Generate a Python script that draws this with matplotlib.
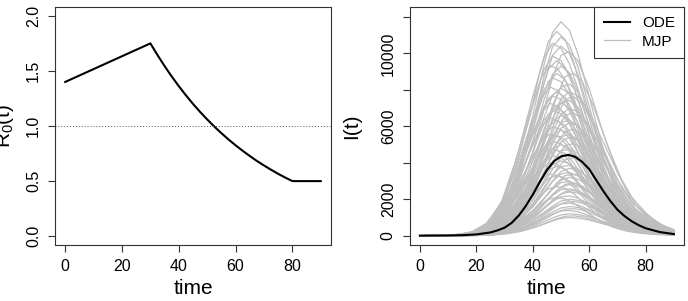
import matplotlib
matplotlib.use("Agg")
import matplotlib.pyplot as plt

plt.rcParams['font.family'] = ['Liberation Sans', 'DejaVu Sans']
plt.rcParams['mathtext.fontset'] = 'custom'
plt.rcParams['mathtext.rm'] = 'Liberation Sans'
plt.rcParams['mathtext.it'] = 'Liberation Sans'

# --- DATA ---
# left panel: reproduction number over time
r0_time = [0, 30, 32.5, 35, 37.5, 40, 42.5, 45, 47.5, 50, 52.5, 55, 57.5, 60, 62.5,
           65, 67.5, 70, 72.5, 75, 77.5, 80, 90]
r0_value = [1.40, 1.75, 1.644, 1.544, 1.450, 1.362, 1.279, 1.201, 1.128, 1.060, 0.995,
            0.935, 0.878, 0.825, 0.775, 0.728, 0.683, 0.642, 0.603, 0.566, 0.532, 0.50, 0.50]

# right panel: deterministic ODE solution
ode_time = [0, 5, 10, 15, 20, 25, 27.5, 30, 32.5, 35, 37.5, 40, 42.5, 45, 47.5, 50, 52.5,
            55, 57.5, 60, 62.5, 65, 67.5, 70, 72.5, 75, 77.5, 80, 85, 90]
ode_value = [5, 8, 14, 30, 70, 180, 290, 440, 700, 1100, 1620, 2250, 2950, 3600, 4080, 4350,
             4430, 4330, 4050, 3650, 3050, 2450, 1900, 1430, 1080, 800, 580, 410, 200, 90]

# right panel: stochastic MJP trajectories, each group with its own sampling times
mjp_time = [0, 10, 15, 20, 25, 30, 35, 40, 44, 47, 50, 53, 56, 60, 65, 70, 75, 80, 85, 90]
mjp_time_b = [0, 8.5, 13.5, 18.5, 23.5, 28.5, 33.5, 38.5, 42.5, 45.5, 48.5, 51.5, 54.5,
              58.5, 63.5, 68.5, 73.5, 78.5, 83.5, 90]
mjp_time_c = [0, 11.5, 16.5, 21.5, 26.5, 31.5, 36.5, 41.5, 45.5, 48.5, 51.5, 54.5, 57.5,
              61.5, 66.5, 71.5, 76.5, 81.5, 86.5, 90]
mjp_time_d = [0, 9, 14, 19, 24, 29, 34, 39, 43, 46, 49, 52, 55, 59, 64, 69, 74, 79, 84, 90]

mjp_peak50 = [
    [4, 23, 80, 230, 700, 1760, 3640, 6570, 9380, 11140, 11730, 11260, 9970, 7620, 4690, 2580, 1350, 700, 380, 200],
    [3, 22, 76, 220, 650, 1640, 3380, 6100, 8720, 10360, 10900, 10460, 9260, 7090, 4360, 2400, 1250, 650, 350, 185],
    [3, 21, 73, 210, 620, 1560, 3220, 5820, 8320, 9880, 10400, 9980, 8840, 6760, 4160, 2290, 1200, 620, 330, 180],
    [3, 19, 65, 186, 560, 1400, 2880, 5210, 7440, 8840, 9300, 8930, 7900, 6050, 3720, 2050, 1070, 560, 300, 158],
    [2, 16, 57, 162, 490, 1220, 2510, 4540, 6480, 7700, 8100, 7780, 6880, 5260, 3240, 1780, 930, 490, 260, 138],
    [2, 15, 51, 146, 440, 1100, 2260, 4090, 5840, 6940, 7300, 7010, 6200, 4750, 2920, 1610, 840, 440, 234, 124],
    [2, 13, 46, 132, 400, 990, 2050, 3700, 5280, 6270, 6600, 6340, 5610, 4290, 2640, 1450, 760, 400, 211, 112],
    [2, 12, 41, 116, 350, 870, 1800, 3250, 4640, 5510, 5800, 5570, 4930, 3770, 2320, 1280, 670, 350, 186, 99],
    [2, 10, 35, 100, 300, 750, 1550, 2800, 4000, 4750, 5000, 4800, 4250, 3250, 2000, 1100, 575, 300, 160, 85],
    [1, 8, 29, 82, 246, 615, 1270, 2300, 3280, 3900, 4100, 3940, 3490, 2660, 1640, 900, 470, 246, 131, 70],
]

mjp_early = [
    [5, 32, 85, 233, 800, 2120, 4660, 7630, 9750, 10550, 10280, 9430, 8060, 5940, 3500, 1910, 1010, 530, 286, 148],
    [5, 30, 79, 218, 740, 1980, 4360, 7130, 9110, 9850, 9600, 8810, 7520, 5540, 3270, 1780, 940, 495, 267, 139],
    [4, 26, 70, 191, 650, 1740, 3830, 6260, 8000, 8660, 8440, 7740, 6610, 4870, 2870, 1570, 830, 435, 235, 122],
    [4, 23, 62, 169, 580, 1540, 3390, 5540, 7080, 7660, 7470, 6850, 5850, 4310, 2540, 1390, 730, 385, 208, 108],
    [3, 21, 55, 152, 520, 1380, 3040, 4970, 6350, 6870, 6690, 6140, 5240, 3860, 2280, 1240, 656, 345, 186, 97],
    [3, 18, 48, 132, 450, 1200, 2640, 4320, 5520, 5970, 5820, 5340, 4560, 3360, 1980, 1080, 570, 300, 162, 84],
    [3, 16, 42, 114, 390, 1040, 2290, 3740, 4780, 5170, 5040, 4630, 3950, 2910, 1720, 940, 494, 260, 140, 73],
    [2, 13, 35, 97, 330, 880, 1940, 3170, 4050, 4380, 4270, 3920, 3340, 2460, 1450, 790, 418, 220, 119, 62],
]

mjp_peak52 = [
    [2, 15, 41, 133, 410, 1070, 2450, 4590, 6940, 8670, 9890, 10100, 9590, 8060, 5610, 3470, 1940, 1120, 612, 347],
    [2, 13, 34, 109, 336, 882, 2016, 3780, 5712, 7140, 8148, 8316, 7896, 6636, 4620, 2856, 1596, 924, 504, 286],
    [2, 11, 30, 98, 300, 788, 1800, 3375, 5100, 6375, 7275, 7425, 7050, 5925, 4125, 2550, 1425, 825, 450, 255],
    [1, 10, 26, 83, 256, 672, 1536, 2880, 4352, 5440, 6208, 6336, 6016, 5056, 3520, 2176, 1216, 704, 384, 218],
    [1, 8, 22, 73, 224, 588, 1344, 2520, 3808, 4760, 5432, 5544, 5264, 4424, 3080, 1904, 1064, 616, 336, 190],
    [1, 7, 19, 62, 192, 504, 1152, 2160, 3264, 4080, 4656, 4752, 4512, 3792, 2640, 1632, 912, 528, 288, 163],
    [1, 6, 16, 51, 156, 410, 936, 1755, 2652, 3315, 3783, 3861, 3666, 3081, 2145, 1326, 741, 429, 234, 133],
    [1, 5, 14, 46, 140, 368, 840, 1575, 2380, 2975, 3395, 3465, 3290, 2765, 1925, 1190, 665, 385, 210, 119],
    [1, 5, 12, 39, 120, 315, 720, 1350, 2040, 2550, 2910, 2970, 2820, 2370, 1650, 1020, 570, 330, 180, 102],
    [1, 4, 10, 34, 104, 273, 624, 1170, 1768, 2210, 2522, 2574, 2444, 2054, 1430, 884, 494, 286, 156, 88],
    [0, 3, 9, 29, 88, 231, 528, 990, 1496, 1870, 2134, 2178, 2068, 1738, 1210, 748, 418, 242, 132, 75],
    [0, 3, 7, 23, 72, 189, 432, 810, 1224, 1530, 1746, 1782, 1692, 1422, 990, 612, 342, 198, 108, 61],
    [0, 2, 6, 18, 56, 147, 336, 630, 952, 1190, 1358, 1386, 1316, 1106, 770, 476, 266, 154, 84, 48],
]

mjp_late = [
    [2, 13, 40, 103, 316, 869, 1817, 3397, 5056, 6399, 7505, 7900, 7663, 6794, 5135, 3476, 2133, 1264, 632, 316],
    [2, 12, 35, 91, 280, 770, 1610, 3010, 4480, 5670, 6650, 7000, 6790, 6020, 4550, 3080, 1890, 1120, 560, 280],
    [2, 11, 31, 81, 248, 682, 1426, 2666, 3968, 5022, 5890, 6200, 6014, 5332, 4030, 2728, 1674, 992, 496, 248],
    [2, 9, 27, 70, 216, 594, 1242, 2322, 3456, 4374, 5130, 5400, 5238, 4644, 3510, 2376, 1458, 864, 432, 216],
    [1, 8, 23, 59, 180, 495, 1035, 1935, 2880, 3645, 4275, 4500, 4365, 3870, 2925, 1980, 1215, 720, 360, 180],
    [1, 6, 19, 48, 148, 407, 851, 1591, 2368, 2997, 3515, 3700, 3589, 3182, 2405, 1628, 999, 592, 296, 148],
    [1, 5, 16, 42, 128, 352, 736, 1376, 2048, 2592, 3040, 3200, 3104, 2752, 2080, 1408, 864, 512, 256, 128],
    [1, 5, 14, 36, 112, 308, 644, 1204, 1792, 2268, 2660, 2800, 2716, 2408, 1820, 1232, 756, 448, 224, 112],
    [1, 4, 12, 31, 96, 264, 552, 1032, 1536, 1944, 2280, 2400, 2328, 2064, 1560, 1056, 648, 384, 192, 96],
    [1, 3, 10, 26, 80, 220, 460, 860, 1280, 1620, 1900, 2000, 1940, 1720, 1300, 880, 540, 320, 160, 80],
    [0, 3, 8, 21, 64, 176, 368, 688, 1024, 1296, 1520, 1600, 1552, 1376, 1040, 704, 432, 256, 128, 64],
    [0, 2, 6, 16, 48, 132, 276, 516, 768, 972, 1140, 1200, 1164, 1032, 780, 528, 324, 192, 96, 48],
    [0, 2, 5, 13, 40, 110, 230, 430, 640, 810, 950, 1000, 970, 860, 650, 440, 270, 160, 80, 40],
]

# sampled on mjp_time_b
mjp_peak48 = [
    [3, 22, 78, 224, 672, 1680, 3472, 6272, 8960, 10640, 11200, 10752, 9520, 7280, 4480, 2464, 1288, 672, 358, 190],
    [3, 19, 67, 192, 576, 1440, 2976, 5376, 7680, 9120, 9600, 9216, 8160, 6240, 3840, 2112, 1104, 576, 307, 163],
    [3, 18, 62, 178, 534, 1335, 2759, 4984, 7120, 8455, 8900, 8544, 7565, 5785, 3560, 1958, 1024, 534, 285, 151],
    [2, 16, 55, 158, 474, 1185, 2449, 4424, 6320, 7505, 7900, 7584, 6715, 5135, 3160, 1738, 909, 474, 253, 134],
    [2, 14, 49, 140, 420, 1050, 2170, 3920, 5600, 6650, 7000, 6720, 5950, 4550, 2800, 1540, 805, 420, 224, 119],
    [2, 13, 44, 126, 378, 945, 1953, 3528, 5040, 5985, 6300, 6048, 5355, 4095, 2520, 1386, 725, 378, 202, 107],
    [2, 11, 39, 110, 330, 825, 1705, 3080, 4400, 5225, 5500, 5280, 4675, 3575, 2200, 1210, 633, 330, 176, 94],
    [1, 9, 33, 94, 282, 705, 1457, 2632, 3760, 4465, 4700, 4512, 3995, 3055, 1880, 1034, 541, 282, 150, 80],
    [1, 8, 27, 76, 228, 570, 1178, 2128, 3040, 3610, 3800, 3648, 3230, 2470, 1520, 836, 437, 228, 122, 65],
    [1, 7, 23, 66, 198, 495, 1023, 1848, 2640, 3135, 3300, 3168, 2805, 2145, 1320, 726, 380, 198, 106, 56],
    [1, 5, 19, 54, 162, 405, 837, 1512, 2160, 2565, 2700, 2592, 2295, 1755, 1080, 594, 311, 162, 86, 46],
    [1, 4, 15, 42, 126, 315, 651, 1176, 1680, 1995, 2100, 2016, 1785, 1365, 840, 462, 242, 126, 67, 36],
]

# sampled on mjp_time_c
mjp_peak54 = [
    [2, 14, 36, 117, 360, 945, 2160, 4050, 6120, 7650, 8730, 8910, 8460, 7110, 4950, 3060, 1710, 990, 540, 270],
    [2, 12, 31, 100, 308, 809, 1848, 3465, 5236, 6545, 7469, 7623, 7238, 6083, 4235, 2618, 1463, 847, 462, 231],
    [1, 10, 27, 88, 272, 714, 1632, 3060, 4624, 5780, 6596, 6732, 6392, 5372, 3740, 2312, 1292, 748, 408, 204],
    [1, 9, 24, 77, 236, 620, 1416, 2655, 4012, 5015, 5723, 5841, 5546, 4661, 3245, 2006, 1121, 649, 354, 177],
    [1, 8, 20, 66, 204, 536, 1224, 2295, 3468, 4335, 4947, 5049, 4794, 4029, 2805, 1734, 969, 561, 306, 153],
    [1, 6, 17, 56, 172, 452, 1032, 1935, 2924, 3655, 4171, 4257, 4042, 3397, 2365, 1462, 817, 473, 258, 129],
    [1, 5, 14, 44, 136, 357, 816, 1530, 2312, 2890, 3298, 3366, 3196, 2686, 1870, 1156, 646, 374, 204, 102],
    [1, 4, 12, 38, 116, 305, 696, 1305, 1972, 2465, 2813, 2871, 2726, 2291, 1595, 986, 551, 319, 174, 87],
    [1, 4, 10, 33, 100, 263, 600, 1125, 1700, 2125, 2425, 2475, 2350, 1975, 1375, 850, 475, 275, 150, 75],
    [0, 3, 8, 25, 76, 200, 456, 855, 1292, 1615, 1843, 1881, 1786, 1501, 1045, 646, 361, 209, 114, 57],
    [0, 2, 6, 20, 60, 158, 360, 675, 1020, 1275, 1455, 1485, 1410, 1185, 825, 510, 285, 165, 90, 45],
    [0, 2, 4, 14, 44, 116, 264, 495, 748, 935, 1067, 1089, 1034, 869, 605, 374, 209, 121, 66, 33],
]

# sampled on mjp_time_d
mjp_early_b = [
    [5, 28, 75, 207, 705, 1880, 4136, 6768, 8648, 9353, 9118, 8366, 7144, 5264, 3102, 1692, 893, 470, 254, 132],
    [4, 25, 66, 180, 615, 1640, 3608, 5904, 7544, 8159, 7954, 7298, 6232, 4592, 2706, 1476, 779, 410, 221, 115],
    [4, 22, 58, 161, 548, 1460, 3212, 5256, 6716, 7264, 7081, 6497, 5548, 4088, 2409, 1314, 694, 365, 197, 102],
    [3, 20, 52, 143, 488, 1300, 2860, 4680, 5980, 6468, 6305, 5785, 4940, 3640, 2145, 1170, 618, 325, 176, 91],
    [3, 17, 45, 123, 420, 1120, 2464, 4032, 5152, 5572, 5432, 4984, 4256, 3136, 1848, 1008, 532, 280, 151, 78],
    [2, 14, 38, 106, 360, 960, 2112, 3456, 4416, 4776, 4656, 4272, 3648, 2688, 1584, 864, 456, 240, 130, 67],
    [2, 12, 32, 88, 300, 800, 1760, 2880, 3680, 3980, 3880, 3560, 3040, 2240, 1320, 720, 380, 200, 108, 56],
    [2, 10, 27, 75, 255, 680, 1496, 2448, 3128, 3383, 3298, 3026, 2584, 1904, 1122, 612, 323, 170, 92, 48],
]

x_ticks = [0, 20, 40, 60, 80]
r0_ticks = [0.0, 0.5, 1.0, 1.5, 2.0]
r0_ticklabels = ["0.0", "0.5", "1.0", "1.5", "2.0"]
i_ticks = [0, 2000, 4000, 6000, 8000, 10000, 12000]
i_ticklabels = ["0", "2000", "", "6000", "", "10000", ""]

GREY = "#bebebe"
TICK_FS = 11.5
LABEL_FS = 15


def r_style(ax):
    # base-R look: full box, outward ticks, y labels parallel to axis
    for s in ax.spines.values():
        s.set_linewidth(0.8)
        s.set_color("#333333")
    ax.tick_params(direction="out", length=5, width=0.8, color="#333333",
                   labelsize=TICK_FS, pad=5)
    for lab in ax.get_yticklabels():
        lab.set_rotation(90)
        lab.set_va("center")
    ax.set_xlim(-3.6, 93.6)
    ax.set_xticks(x_ticks)
    ax.set_xlabel("time", fontsize=LABEL_FS, labelpad=4)


fig = plt.figure(figsize=(6.88, 3.01), dpi=100)

# --- LEFT: R0(t) ---
ax1 = fig.add_axes([0.0799, 0.186, 0.4012, 0.7907])
ax1.plot(r0_time, r0_value, color="black", linewidth=1.5)
ax1.axhline(1.0, color="#555555", linewidth=0.7, linestyle=(0, (1, 2)))
ax1.set_ylim(-0.08, 2.08)
ax1.set_yticks(r0_ticks)
ax1.set_yticklabels(r0_ticklabels)
ax1.set_ylabel(r"$\mathregular{R_0(t)}$", fontsize=LABEL_FS, labelpad=7)
r_style(ax1)

# --- RIGHT: I(t) ---
ax2 = fig.add_axes([0.5955, 0.186, 0.3987, 0.7907])
mjp_groups = [
    (mjp_time, mjp_peak50), (mjp_time, mjp_early), (mjp_time, mjp_peak52),
    (mjp_time, mjp_late), (mjp_time_b, mjp_peak48), (mjp_time_c, mjp_peak54),
    (mjp_time_d, mjp_early_b),
]
first = True
for times, group in mjp_groups:
    for run in group:
        ax2.plot(times, run, color=GREY, linewidth=0.9,
                 label="MJP" if first else None)
        first = False
ax2.plot(ode_time, ode_value, color="black", linewidth=1.5, label="ODE")
ax2.set_ylim(-510, 12540)
ax2.set_yticks(i_ticks)
ax2.set_yticklabels(i_ticklabels)
ax2.set_ylabel("I(t)", fontsize=LABEL_FS, labelpad=14)
r_style(ax2)

handles, labels = ax2.get_legend_handles_labels()
leg = ax2.legend(handles[::-1], labels[::-1], loc="upper right", fontsize=11,
                 borderaxespad=0, fancybox=False, framealpha=1, edgecolor="#333333",
                 handlelength=1.7, handletextpad=0.8, labelspacing=0.3, borderpad=0.6)
leg.get_frame().set_linewidth(0.8)

fig.savefig("out.png", dpi=100)
